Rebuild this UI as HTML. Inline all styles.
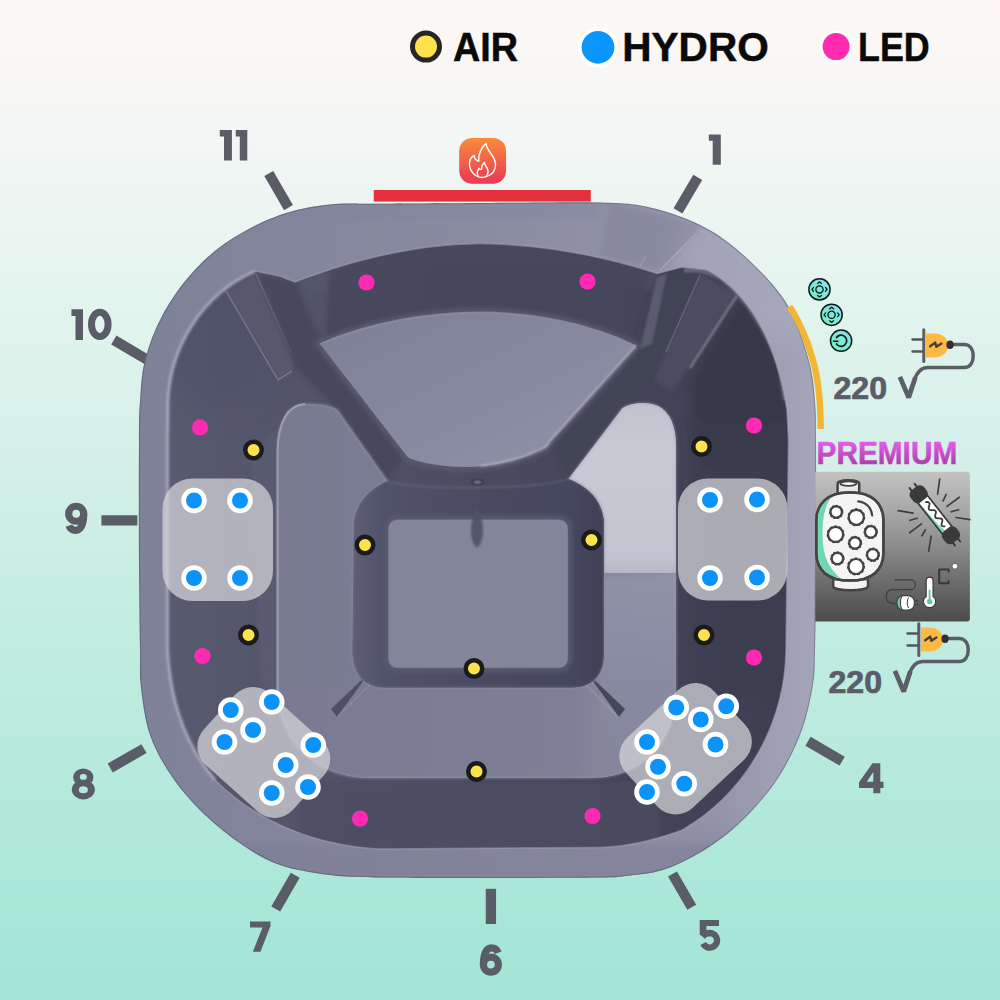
<!DOCTYPE html>
<html>
<head>
<meta charset="utf-8">
<title>Spa layout</title>
<style>
  html, body { margin: 0; padding: 0; }
  body { width: 1000px; height: 1000px; overflow: hidden; background: #c5ede2; font-family: "Liberation Sans", sans-serif; }
  svg { display: block; }
  text { font-family: "Liberation Sans", sans-serif; font-weight: bold; }
</style>
</head>
<body>
<svg width="1000" height="1000" viewBox="0 0 1000 1000">
  <defs>
    <!-- BACKGROUND -->
    <linearGradient id="bg" x1="0" y1="0" x2="0" y2="1">
      <stop offset="0" stop-color="#fdf8f6"/>
      <stop offset="0.08" stop-color="#f8f7f5"/>
      <stop offset="0.15" stop-color="#f1f6f4"/>
      <stop offset="0.30" stop-color="#e3f4ee"/>
      <stop offset="0.45" stop-color="#d5f0e9"/>
      <stop offset="0.60" stop-color="#c5ede2"/>
      <stop offset="0.80" stop-color="#b3e9db"/>
      <stop offset="0.96" stop-color="#a5e6d6"/>
      <stop offset="1" stop-color="#a2e5d4"/>
    </linearGradient>
    <!-- TUB -->
    <linearGradient id="rimG" gradientUnits="userSpaceOnUse" x1="139" y1="0" x2="816" y2="0">
      <stop offset="0" stop-color="#7f8199"/>
      <stop offset="0.5" stop-color="#898ba1"/>
      <stop offset="0.85" stop-color="#9495aa"/>
      <stop offset="1" stop-color="#a4a5b8"/>
    </linearGradient>
    <linearGradient id="wallG" gradientUnits="userSpaceOnUse" x1="167" y1="0" x2="789" y2="0">
      <stop offset="0" stop-color="#585a70"/>
      <stop offset="0.5" stop-color="#4a4b60"/>
      <stop offset="1" stop-color="#3d3e50"/>
    </linearGradient>
    <linearGradient id="benchG" gradientUnits="userSpaceOnUse" x1="277" y1="0" x2="676" y2="0">
      <stop offset="0" stop-color="#787a90"/>
      <stop offset="0.45" stop-color="#7c7e95"/>
      <stop offset="0.80" stop-color="#83849b"/>
      <stop offset="1" stop-color="#8e90a6"/>
    </linearGradient>
    <linearGradient id="rseatUpG" gradientUnits="userSpaceOnUse" x1="0" y1="404" x2="0" y2="574">
      <stop offset="0" stop-color="#c2c2cf"/>
      <stop offset="0.3" stop-color="#c9c9d5"/>
      <stop offset="0.9" stop-color="#c4c4d1"/>
      <stop offset="1" stop-color="#b6b7c6"/>
    </linearGradient>
    <linearGradient id="fanG" x1="0" y1="0" x2="1" y2="1">
      <stop offset="0" stop-color="#7d7f97"/>
      <stop offset="1" stop-color="#9092a8"/>
    </linearGradient>
    

    <linearGradient id="flameG" x1="0" y1="0" x2="0" y2="1">
      <stop offset="0" stop-color="#f88d3a"/>
      <stop offset="1" stop-color="#e93854"/>
    </linearGradient>
    <linearGradient id="ctrlG" x1="0" y1="1" x2="1" y2="0">
      <stop offset="0" stop-color="#6df2bd"/>
      <stop offset="1" stop-color="#92dcf2"/>
    </linearGradient>
    <linearGradient id="premG" x1="0" y1="0" x2="0" y2="1">
      <stop offset="0.2" stop-color="#e35ae8"/>
      <stop offset="0.95" stop-color="#a33a9e"/>
    </linearGradient>
    <linearGradient id="boxG" x1="0" y1="0" x2="0" y2="1">
      <stop offset="0" stop-color="#c3c3c3"/>
      <stop offset="0.35" stop-color="#9e9e9e"/>
      <stop offset="0.7" stop-color="#717171"/>
      <stop offset="1" stop-color="#4b4b4b"/>
    </linearGradient>
    <filter id="b05"><feGaussianBlur stdDeviation="0.6"/></filter>
    <filter id="b12" x="-50%" y="-50%" width="200%" height="200%"><feGaussianBlur stdDeviation="14"/></filter>
    <clipPath id="basinClip"><path d="M167.5 440 L168 400 C170 350 200 295 255 271 L280 276 L295 282 L305 278 C360 258 420 244 480 243.5 C540 244 600 255 657.5 273.5 L682 267 L707 270 C745 290 775 335 787 410 L788.5 440 L786 650 C785 720 750 790 682.5 830 C650 842 620 847 600 847.5 L380 849 C320 846 260 825 215 780 C185 745 170 700 167.5 650 Z"/></clipPath>
    <clipPath id="benchClip"><path d="M277.5 470 L277.5 450 C278 422 288 404.5 305 404 C319 403.6 331 405 337.5 410 L387.5 481 C372 488 358 500 354 520 L352.5 650 C352.5 675 365 687.5 385 687.5 L572 687.5 C592 687.5 603.75 675 603.75 655 L603.75 520 C601 500 590 488 568.5 479 L622.5 408 C632 402 648 401.5 658 406 C670 412 676 426 676 446 L676 690 C676 745 640 778 590 778 L370 778 C315 778 277.5 740 277.5 690 Z" clip-rule="evenodd"/></clipPath>
    <linearGradient id="rseatG" x1="0" y1="0" x2="0" y2="1">
      <stop offset="0" stop-color="#9092a8" stop-opacity="0"/>
      <stop offset="0.04" stop-color="#9092a8" stop-opacity="0.9"/>
      <stop offset="0.5" stop-color="#888aa1" stop-opacity="0.95"/>
      <stop offset="1" stop-color="#82849c" stop-opacity="0.95"/>
    </linearGradient>
    <linearGradient id="bbenchG" gradientUnits="userSpaceOnUse" x1="277" y1="0" x2="676" y2="0">
      <stop offset="0" stop-color="#7a7b92" stop-opacity="0.9"/>
      <stop offset="0.74" stop-color="#7e7f96" stop-opacity="0.9"/>
      <stop offset="0.88" stop-color="#8a8b9e" stop-opacity="0"/>
    </linearGradient>
    <linearGradient id="fwG" gradientUnits="userSpaceOnUse" x1="352" y1="0" x2="604" y2="0">
      <stop offset="0" stop-color="#5d5e76"/>
      <stop offset="0.13" stop-color="#50516a"/>
      <stop offset="0.5" stop-color="#4a4b61"/>
      <stop offset="0.87" stop-color="#454660"/>
      <stop offset="1" stop-color="#3f4055"/>
    </linearGradient>
    <filter id="b1"><feGaussianBlur stdDeviation="1"/></filter>
    <filter id="b2"><feGaussianBlur stdDeviation="2"/></filter>
    <filter id="b4"><feGaussianBlur stdDeviation="4"/></filter>
    <clipPath id="tubClip"><path d="M139 440 C138.8 466.3 138.8 525.0 139 560 C139.2 595.0 139.7 628.8 140 650 C140.3 671.2 139.3 673.3 141 687.5 C142.7 701.7 144.8 720.0 150 735 C155.2 750.0 163.3 764.2 172.5 777.5 C181.7 790.8 193.3 803.8 205 815 C216.7 826.2 230.0 836.7 242.5 845 C255.0 853.3 265.4 860.0 280 865 C294.6 870.0 313.3 872.9 330 875 C346.7 877.1 353.3 877.0 380 877.5 C406.7 878.0 453.3 878.0 490 878 C526.7 878.0 577.5 877.8 600 877.5 C622.5 877.2 614.6 877.2 625 876 C635.4 874.8 650.0 873.9 662.5 870 C675.0 866.1 687.5 860.0 700 852.5 C712.5 845.0 725.0 836.7 737.5 825 C750.0 813.3 764.6 797.5 775 782.5 C785.4 767.5 793.8 750.8 800 735 C806.2 719.2 810.0 701.7 812.5 687.5 C815.0 673.3 814.4 671.2 815 650 C815.6 628.8 815.8 595.0 816 560 C816.2 525.0 816.2 466.3 816 440 C815.8 413.7 816.0 414.5 815 402 C814.0 389.5 813.3 378.7 810 365 C806.7 351.3 800.8 332.9 795 320 C789.2 307.1 784.6 299.2 775 287.5 C765.4 275.8 750.0 260.4 737.5 250 C725.0 239.6 714.6 232.1 700 225 C685.4 217.9 666.7 211.2 650 207.5 C633.3 203.8 626.7 203.2 600 202.5 C573.3 201.8 526.7 202.8 490 203 C453.3 203.2 406.7 203.5 380 203.75 C353.3 204.0 346.7 202.6 330 204.5 C313.3 206.4 296.7 209.1 280 215 C263.3 220.9 244.6 230.4 230 240 C215.4 249.6 203.8 260.0 192.5 272.5 C181.2 285.0 170.4 300.4 162.5 315 C154.6 329.6 148.8 345.5 145 360 C141.2 374.5 141.0 388.7 140 402 C139.0 415.3 139.2 413.7 139 440 Z"/></clipPath>
  </defs>

  <rect width="1000" height="1000" fill="url(#bg)"/>

  <!-- TICKS -->
  <g id="ticks" stroke="#5a5c68" stroke-width="10.3" stroke-linecap="butt">
    <line x1="268.75" y1="173.5" x2="288.5" y2="207.6"/>
    <line x1="113.8" y1="340.05" x2="147" y2="359.6"/>
    <line x1="697.75" y1="177.3" x2="678" y2="210.8"/>
    <line x1="101.4" y1="520.4" x2="137.4" y2="520.4"/>
    <line x1="110.2" y1="768.05" x2="144" y2="748.6"/>
    <line x1="295.2" y1="875.3" x2="275.75" y2="909"/>
    <line x1="490.9" y1="888.8" x2="490.9" y2="924"/>
    <line x1="672.5" y1="874" x2="691.75" y2="907.25"/>
    <line x1="808" y1="741.2" x2="842.15" y2="761.15"/>
  </g>

  <!-- TUB START -->
  <g id="tub">
    <path id="outer" d="M139 440 C138.8 466.3 138.8 525.0 139 560 C139.2 595.0 139.7 628.8 140 650 C140.3 671.2 139.3 673.3 141 687.5 C142.7 701.7 144.8 720.0 150 735 C155.2 750.0 163.3 764.2 172.5 777.5 C181.7 790.8 193.3 803.8 205 815 C216.7 826.2 230.0 836.7 242.5 845 C255.0 853.3 265.4 860.0 280 865 C294.6 870.0 313.3 872.9 330 875 C346.7 877.1 353.3 877.0 380 877.5 C406.7 878.0 453.3 878.0 490 878 C526.7 878.0 577.5 877.8 600 877.5 C622.5 877.2 614.6 877.2 625 876 C635.4 874.8 650.0 873.9 662.5 870 C675.0 866.1 687.5 860.0 700 852.5 C712.5 845.0 725.0 836.7 737.5 825 C750.0 813.3 764.6 797.5 775 782.5 C785.4 767.5 793.8 750.8 800 735 C806.2 719.2 810.0 701.7 812.5 687.5 C815.0 673.3 814.4 671.2 815 650 C815.6 628.8 815.8 595.0 816 560 C816.2 525.0 816.2 466.3 816 440 C815.8 413.7 816.0 414.5 815 402 C814.0 389.5 813.3 378.7 810 365 C806.7 351.3 800.8 332.9 795 320 C789.2 307.1 784.6 299.2 775 287.5 C765.4 275.8 750.0 260.4 737.5 250 C725.0 239.6 714.6 232.1 700 225 C685.4 217.9 666.7 211.2 650 207.5 C633.3 203.8 626.7 203.2 600 202.5 C573.3 201.8 526.7 202.8 490 203 C453.3 203.2 406.7 203.5 380 203.75 C353.3 204.0 346.7 202.6 330 204.5 C313.3 206.4 296.7 209.1 280 215 C263.3 220.9 244.6 230.4 230 240 C215.4 249.6 203.8 260.0 192.5 272.5 C181.2 285.0 170.4 300.4 162.5 315 C154.6 329.6 148.8 345.5 145 360 C141.2 374.5 141.0 388.7 140 402 C139.0 415.3 139.2 413.7 139 440 Z" fill="url(#rimG)"/>
    <g clip-path="url(#tubClip)">
      <!-- rim shading: lighter top-right corner, lighter bottom -->
      <ellipse cx="770" cy="262" rx="95" ry="80" fill="#a9aabd" opacity="0.7" filter="url(#b12)"/>
      <path d="M139 845 H816 V884 H139 Z" fill="#7e7f97" opacity="0.6" filter="url(#b4)"/>
      <path d="M139 203 H600 V218 H139 Z" fill="#83859f" opacity="0.4" filter="url(#b4)"/>
      <ellipse cx="690" cy="870" rx="90" ry="40" fill="#83849c" opacity="0.5" filter="url(#b12)"/>
      <!-- dark thin outer edge on left -->
      <path d="M139 440 C138.8 466.3 138.8 525.0 139 560 C139.2 595.0 139.7 628.8 140 650 C140.3 671.2 139.3 673.3 141 687.5 C142.7 701.7 144.8 720.0 150 735 C155.2 750.0 163.3 764.2 172.5 777.5 C181.7 790.8 193.3 803.8 205 815 C216.7 826.2 230.0 836.7 242.5 845 C255.0 853.3 265.4 860.0 280 865 C294.6 870.0 313.3 872.9 330 875 C346.7 877.1 353.3 877.0 380 877.5 C406.7 878.0 453.3 878.0 490 878 C526.7 878.0 577.5 877.8 600 877.5 C622.5 877.2 614.6 877.2 625 876 C635.4 874.8 650.0 873.9 662.5 870 C675.0 866.1 687.5 860.0 700 852.5 C712.5 845.0 725.0 836.7 737.5 825 C750.0 813.3 764.6 797.5 775 782.5 C785.4 767.5 793.8 750.8 800 735 C806.2 719.2 810.0 701.7 812.5 687.5 C815.0 673.3 814.4 671.2 815 650 C815.6 628.8 815.8 595.0 816 560 C816.2 525.0 816.2 466.3 816 440 C815.8 413.7 816.0 414.5 815 402 C814.0 389.5 813.3 378.7 810 365 C806.7 351.3 800.8 332.9 795 320 C789.2 307.1 784.6 299.2 775 287.5 C765.4 275.8 750.0 260.4 737.5 250 C725.0 239.6 714.6 232.1 700 225 C685.4 217.9 666.7 211.2 650 207.5 C633.3 203.8 626.7 203.2 600 202.5 C573.3 201.8 526.7 202.8 490 203 C453.3 203.2 406.7 203.5 380 203.75 C353.3 204.0 346.7 202.6 330 204.5 C313.3 206.4 296.7 209.1 280 215 C263.3 220.9 244.6 230.4 230 240 C215.4 249.6 203.8 260.0 192.5 272.5 C181.2 285.0 170.4 300.4 162.5 315 C154.6 329.6 148.8 345.5 145 360 C141.2 374.5 141.0 388.7 140 402 C139.0 415.3 139.2 413.7 139 440 Z" fill="none" stroke="#3a3b4c" stroke-width="2" opacity="0.35"/>

      <!-- rim crease top-right -->
      <path d="M696 234 L660 270" fill="none" stroke="#b6b7c6" stroke-width="1.6" opacity="0.7" filter="url(#b05)"/>
      <path d="M646 256 L640 266" fill="none" stroke="#b6b7c6" stroke-width="1.4" opacity="0.6" filter="url(#b05)"/>
      <path d="M610 203 L700 225 L696 234 L660 270 L600 256 Z" fill="#7a7b90" opacity="0.35" filter="url(#b2)"/>
      <!-- basin walls -->
      <path d="M167.5 440 L168 400 C170 350 200 295 255 271 L280 276 L295 282 L305 278 C360 258 420 244 480 243.5 C540 244 600 255 657.5 273.5 L682 267 L707 270 C745 290 775 335 787 410 L788.5 440 L786 650 C785 720 750 790 682.5 830 C650 842 620 847 600 847.5 L380 849 C320 846 260 825 215 780 C185 745 170 700 167.5 650 Z" fill="url(#wallG)"/>
      <g clip-path="url(#basinClip)">
        <!-- lounge back: upper step lighter -->
        <path d="M300 282 C360 258 420 244 480 243.5 C540 244 600 255 660 275 L652 292 C600 273 540 262 480 261.5 C420 262 360 276 308 298 Z" fill="#585a70" opacity="0.4" filter="url(#b2)"/>
        <path d="M330 262 C380 248 430 243 480 243 C540 244 600 255 650 270 L630 340 C590 322 535 312 480 312 C430 312 370 322 325 342 Z" fill="#46475c" opacity="0.8" filter="url(#b2)"/>
        <!-- wall lighter towards top-left corner -->
        <ellipse cx="215" cy="330" rx="60" ry="80" fill="#4e5068" opacity="0.5" filter="url(#b12)"/>
        <!-- top-left ridge -->
        <path d="M226 292 L256 274 L296 368 L279 381 Z" fill="#5a5b71" opacity="0.7" filter="url(#b2)"/>
        <path d="M226 291 L278 380 L292 371" fill="none" stroke="#8b8ca1" stroke-width="1.6" opacity="0.55" filter="url(#b05)"/>
        <path d="M256 274 L291 352" fill="none" stroke="#7f8096" stroke-width="1.4" opacity="0.6" filter="url(#b05)"/>
        <!-- lounge left side wall darker -->
        <path d="M258 273 L296 283 L322 345 L404 455 L388 480 L338 410 L296 368 Z" fill="#46475b" opacity="0.85" filter="url(#b2)"/>
        <!-- top-right ridge / side -->
        <path d="M660 275 L700 274 L666 352 L654 380 L622 408 L568 479 L550 443 L636 346 Z" fill="#434457" opacity="0.8" filter="url(#b2)"/>
        <!-- lounge right end wall (lighter) -->
        <path d="M657 277 L667 274 L652 344 L640 349 Z" fill="#5f6075" opacity="0.85" filter="url(#b1)"/>
        <!-- ridge between line A and line B -->
        <path d="M700 274 L738 294 L700 352 L672 392 L654 380 L666 352 Z" fill="#4f5065" opacity="0.8" filter="url(#b2)"/>
        <path d="M700 275 L666 352" fill="none" stroke="#8485a0" stroke-width="1.3" opacity="0.5" filter="url(#b05)"/>
        <path d="M738 294 L708 340 L690 368" fill="none" stroke="#a9aabd" stroke-width="2.4" opacity="0.55" filter="url(#b1)"/>
        <!-- darkest pocket right of ridge -->
        <path d="M742 298 C765 325 780 365 786 410 L786 470 L700 470 L690 380 Z" fill="#353544" opacity="0.7" filter="url(#b4)"/>
        <!-- inner bevel band in the top-right corner -->
        <path d="M684 270 C700 268 712 272 722 278 C745 296 766 328 780 364 L786 400" fill="none" stroke="#6c6d83" stroke-width="6" opacity="0.8" filter="url(#b1)"/>
        <!-- right wall is darkest -->
        <path d="M690 420 H790 V700 H690 Z" fill="#3b3c4f" opacity="0.5" filter="url(#b4)"/>
        <!-- left wall vertical slope before the seat -->
        <path d="M250 455 L277 430 L277 700 L262 700 Z" fill="#5c5d73" opacity="0.8" filter="url(#b2)"/>
        <!-- bottom wall -->
        <path d="M300 782 H660 V850 H300 Z" fill="#4d4e63" opacity="0.7" filter="url(#b2)"/>
      </g>
      <!-- inner rim highlight edge -->
      <path d="M215 780 C185 745 170 700 167.5 650 L167.5 440 L168 400 C170 350 200 295 255 271" fill="none" stroke="#a6a7bb" stroke-width="4" opacity="0.7" filter="url(#b1)"/>
      <path d="M167.5 440 L168 400 C170 350 200 295 255 271 L280 276 L295 282 L305 278 C360 258 420 244 480 243.5 C540 244 600 255 657.5 273.5 L682 267 L707 270 C745 290 775 335 787 410 L788.5 440 L786 650 C785 720 750 790 682.5 830 C650 842 620 847 600 847.5 L380 849 C320 846 260 825 215 780 C185 745 170 700 167.5 650 Z" fill="none" stroke="#a4a5b8" stroke-width="1.6" opacity="0.55" filter="url(#b05)"/>

      <!-- bench -->
      <path d="M277.5 470 L277.5 450 C278 422 288 404.5 305 404 C319 403.6 331 405 337.5 410 L387.5 481 C372 488 358 500 354 520 L352.5 650 C352.5 675 365 687.5 385 687.5 L572 687.5 C592 687.5 603.75 675 603.75 655 L603.75 520 C601 500 590 488 568.5 479 L622.5 408 C632 402 648 401.5 658 406 C670 412 676 426 676 446 L676 690 C676 745 640 778 590 778 L370 778 C315 778 277.5 740 277.5 690 Z" fill="url(#benchG)" fill-rule="evenodd"/>
      <g clip-path="url(#benchClip)">
        <!-- right seat upper lit surface -->
        <path d="M566 476 L622.5 406 C632 400 648 399.5 660 404 C672 410 680 426 680 446 L680 573 L603.75 573 L603.75 520 C601 500 590 488 566 478 Z" fill="url(#rseatUpG)"/>
        <!-- right seat vertical shading -->
        <rect x="600" y="572" width="90" height="220" fill="url(#rseatG)"/>
        <!-- bottom bench tone -->
        <rect x="270" y="688" width="420" height="95" fill="url(#bbenchG)"/>
        <!-- bottom creases -->
        <path d="M369 673 L331 709 L337 717 Z" fill="#4c4d63" opacity="0.95" filter="url(#b05)"/>
        <path d="M376 679 L337 717" stroke="#9394a8" stroke-width="1.5" opacity="0.5" filter="url(#b05)"/>
        <path d="M587 673 L625 709 L619 717 Z" fill="#43445a" opacity="0.95" filter="url(#b05)"/>
        <path d="M580 679 L618 717" stroke="#a3a4b6" stroke-width="1.5" opacity="0.5" filter="url(#b05)"/>
      </g>
      <!-- bench edge chamfer highlight -->
      <path d="M277.5 470 L277.5 450 C278 422 288 404.5 305 404 C319 403.6 331 405 337.5 410 L387.5 481 C372 488 358 500 354 520 L352.5 650 C352.5 675 365 687.5 385 687.5 L572 687.5 C592 687.5 603.75 675 603.75 655 L603.75 520 C601 500 590 488 568.5 479 L622.5 408 C632 402 648 401.5 658 406 C670 412 676 426 676 446 L676 690 C676 745 640 778 590 778 L370 778 C315 778 277.5 740 277.5 690 Z" fill="none" stroke="#9a9bae" stroke-width="1.8" opacity="0.5" filter="url(#b1)"/>

      <path d="M277.5 700 V450 C278 422 288 404.5 305 404" fill="none" stroke="#b6b7ca" stroke-width="2" opacity="0.6" filter="url(#b05)"/>

      <!-- fan lounge -->
      <path d="M320 344 C370 322 430 312.5 480 312.5 C535 312.5 590 324 636 346 L549.5 442 C548 446 545 448 540 450 C500 470 450 471 413 459.5 C409 458.5 406.5 456.5 404.5 453 Z" fill="none" stroke="#5a5b70" stroke-width="9" stroke-linejoin="round" opacity="0.8" filter="url(#b2)"/>
      <path d="M320 344 C370 322 430 312.5 480 312.5 C535 312.5 590 324 636 346 L549.5 442 C548 446 545 448 540 450 C500 470 450 471 413 459.5 C409 458.5 406.5 456.5 404.5 453 Z" fill="url(#fanG)"/>
      <path d="M320 344 C370 322 430 312.5 480 312.5 C535 312.5 590 324 636 346" fill="none" stroke="#9192a6" stroke-width="1.8" opacity="0.7" filter="url(#b05)"/>
      <path d="M636 346 L549.5 442 C548 446 545 448 540 450 C520 459 500 464 480 466" fill="none" stroke="#b4b5c4" stroke-width="2.4" opacity="0.7" filter="url(#b1)"/>

      <!-- footwell -->
      <path d="M387.5 481 C372 488 358 500 354 520 L352.5 650 C352.5 675 365 687.5 385 687.5 L572 687.5 C592 687.5 603.75 675 603.75 655 L603.75 520 C601 500 590 488 568.5 479 C540 489 420 491 387.5 481 Z" fill="url(#fwG)"/>
      <path d="M387.5 481 C372 488 358 500 354 520 L352.5 650 C352.5 675 365 687.5 385 687.5 L572 687.5 C592 687.5 603.75 675 603.75 655 L603.75 520 C601 500 590 488 568.5 479 C540 489 420 491 387.5 481 Z" fill="none" stroke="#7a7b90" stroke-width="1.6" opacity="0.45" filter="url(#b1)"/>
      <path d="M398.75 520 H557.5 Q567.5 520 567.5 530 V657.5 Q567.5 667.5 557.5 667.5 H398.75 Q388.75 667.5 388.75 657.5 V530 Q388.75 520 398.75 520 Z" fill="none" stroke="#5c5d72" stroke-width="10" opacity="0.7" filter="url(#b2)"/>
      <path d="M398.75 520 H557.5 Q567.5 520 567.5 530 V657.5 Q567.5 667.5 557.5 667.5 H398.75 Q388.75 667.5 388.75 657.5 V530 Q388.75 520 398.75 520 Z" fill="#83859b"/>
      <path d="M398.75 520 H557.5 Q567.5 520 567.5 530 V657.5 Q567.5 667.5 557.5 667.5 H398.75 Q388.75 667.5 388.75 657.5 V530 Q388.75 520 398.75 520 Z" fill="none" stroke="#8a8ba0" stroke-width="1.4" opacity="0.5" filter="url(#b05)"/>
      <!-- drain and ridge -->
      <ellipse cx="477.5" cy="482" rx="7" ry="3.6" fill="#3d3e50" opacity="0.8"/>
      <ellipse cx="477.5" cy="482" rx="3.5" ry="1.8" fill="#70718a" opacity="0.8"/>
      <path d="M477 505 C470 520 468 540 477 548 C486 540 484 520 477 505 Z" fill="#505166" opacity="0.9" filter="url(#b1)"/>
      <path d="M477 508 L477 538" stroke="#3c3d4f" stroke-width="3" opacity="0.7" filter="url(#b1)"/>
    </g>
  </g>
  <!-- TUB END -->

  <!-- OVERLAYS -->
  <g id="overlays">

    <!-- HEATER -->
    <g id="heater">
      <rect x="373.75" y="190" width="217" height="11.6" fill="#e5303d"/>
      <rect x="459.2" y="137.9" width="46.9" height="45.9" rx="13" fill="url(#flameG)"/>
      <path d="M485.97 143.53 C486.6 148 489 151 491.5 154.5 C494.3 158.3 495.7 161.5 495.5 165.5 C495.2 170.5 491.8 174.6 487 176.4 C485.3 177.1 483.4 177.5 481.7 177.5 C479.6 177.5 477.4 176.7 475.7 175.5 C472.2 173 469.6 168.8 469.5 164.3 C469.4 160.3 471.3 156.9 474.1 155.4 C474.4 157.8 475.9 160.6 478.6 161.3 C478.2 154.5 481.3 147.4 485.97 143.53 Z" fill="none" stroke="#ffffff" stroke-width="1.4" stroke-linejoin="round"/>
      <path d="M478.4 176.3 C477 174.3 476.8 171.4 478.9 168.3 C479.6 169.3 480.5 169.6 481.5 169.2 C481.5 166.5 482.6 164 484.3 162.3 C484.6 164.6 486.3 166.2 487.3 168.6 C488.4 171.3 488 174.3 486.2 176.4" fill="none" stroke="#ffffff" stroke-width="1.4" stroke-linejoin="round" stroke-linecap="round"/>
    </g>

    <!-- CONTROL PANEL -->
    <g id="controls">
      <path d="M789.5 306.5 C800 322 811 348 816.5 375 C819.5 392 820.7 410 820.7 429" fill="none" stroke="#f2b632" stroke-width="6.4"/>
      <g transform="translate(819.5 289.4)"><circle r="10.6" fill="url(#ctrlG)" stroke="#0e1a1c" stroke-width="1.5"/><circle r="3.6" fill="none" stroke="#0e1a1c" stroke-width="1.3"/><path d="M-1.9 -6 L0 -7.6 L1.9 -6 M-1.9 6 L0 7.6 L1.9 6 M-6 -1.9 L-7.6 0 L-6 1.9 M6 -1.9 L7.6 0 L6 1.9" fill="none" stroke="#0e1a1c" stroke-width="1.3" stroke-linecap="round" stroke-linejoin="round"/></g>
      <g transform="translate(831.6 314.8)"><circle r="10.6" fill="url(#ctrlG)" stroke="#0e1a1c" stroke-width="1.5"/><circle r="3.6" fill="none" stroke="#0e1a1c" stroke-width="1.3"/><path d="M-1.9 -6 L0 -7.6 L1.9 -6 M-1.9 6 L0 7.6 L1.9 6 M-6 -1.9 L-7.6 0 L-6 1.9 M6 -1.9 L7.6 0 L6 1.9" fill="none" stroke="#0e1a1c" stroke-width="1.3" stroke-linecap="round" stroke-linejoin="round"/></g>
      <g transform="translate(841.1 340.7)"><circle r="10.6" fill="url(#ctrlG)" stroke="#0e1a1c" stroke-width="1.5"/><path d="M-4.6 -3.2 A5.6 5.6 0 1 1 -4.6 3.2" fill="none" stroke="#0e1a1c" stroke-width="1.7" stroke-linecap="round"/><path d="M-7.6 0.6 H-3.2" stroke="#0e1a1c" stroke-width="1.5" stroke-linecap="round"/></g>
    </g>

    <!-- POWER 1 -->
    
    <g transform="translate(0 0)">
      <text x="833.5" y="399" font-size="30.5" fill="#5a5c68" stroke="#5a5c68" stroke-width="0.7" textLength="53.5" lengthAdjust="spacingAndGlyphs">220</text>
      <path d="M899.9 376.9 L908.7 397.6 L915.3 377.6" fill="none" stroke="#5b5d69" stroke-width="4.8" stroke-linejoin="miter" stroke-miterlimit="2"/><path d="M914.2 381 C917 371 921.5 367.6 928 367.6 L964 367.6 C970.5 367.6 973.2 362 973.2 356 C973.2 349.5 970 344.6 964 344.6 L951 344.6" fill="none" stroke="#5b5d69" stroke-width="3.5" stroke-linecap="round" stroke-linejoin="round"/>
      <path d="M926 333.6 H934.5 C943 333.6 948.4 339.5 948.4 345.6 C948.4 351.7 943 357.6 934.5 357.6 H926 Z" fill="#fcba45"/>
      <ellipse cx="950" cy="344.8" rx="3.6" ry="4.3" fill="#2f2f33"/>
      <path d="M923.8 329.8 V361.4" stroke="#5b5d69" stroke-width="3" stroke-linecap="round"/>
      <path d="M912.4 339.5 H922.6 M912.4 351.5 H922.6" stroke="#55565f" stroke-width="2.3" stroke-linecap="round"/>
      <path d="M930.2 346.2 L935.2 342.6 L936.4 346.8 L941.4 343.6" fill="none" stroke="#453f36" stroke-width="2.4" stroke-linecap="round" stroke-linejoin="round"/>
    </g>
    <!-- POWER 2 -->
    
    <g transform="translate(-5 294)">
      <text x="833.5" y="399" font-size="30.5" fill="#5a5c68" stroke="#5a5c68" stroke-width="0.7" textLength="53.5" lengthAdjust="spacingAndGlyphs">220</text>
      <path d="M899.9 376.9 L908.7 397.6 L915.3 377.6" fill="none" stroke="#5b5d69" stroke-width="4.8" stroke-linejoin="miter" stroke-miterlimit="2"/><path d="M914.2 381 C917 371 921.5 367.6 928 367.6 L964 367.6 C970.5 367.6 973.2 362 973.2 356 C973.2 349.5 970 344.6 964 344.6 L951 344.6" fill="none" stroke="#5b5d69" stroke-width="3.5" stroke-linecap="round" stroke-linejoin="round"/>
      <path d="M926 333.6 H934.5 C943 333.6 948.4 339.5 948.4 345.6 C948.4 351.7 943 357.6 934.5 357.6 H926 Z" fill="#fcba45"/>
      <ellipse cx="950" cy="344.8" rx="3.6" ry="4.3" fill="#2f2f33"/>
      <path d="M923.8 329.8 V361.4" stroke="#5b5d69" stroke-width="3" stroke-linecap="round"/>
      <path d="M912.4 339.5 H922.6 M912.4 351.5 H922.6" stroke="#55565f" stroke-width="2.3" stroke-linecap="round"/>
      <path d="M930.2 346.2 L935.2 342.6 L936.4 346.8 L941.4 343.6" fill="none" stroke="#453f36" stroke-width="2.4" stroke-linecap="round" stroke-linejoin="round"/>
    </g>

    <!-- PREMIUM -->
    <g id="premium">
      <text x="816.6" y="464" font-size="30.5" fill="url(#premG)" stroke="url(#premG)" stroke-width="0.5" textLength="140.6" lengthAdjust="spacingAndGlyphs">PREMIUM</text>
      <path d="M815.2 471.8 H966.9 Q969.9 471.8 969.9 474.8 V618.5 Q969.9 621.5 966.9 621.5 H815.2 Z" fill="url(#boxG)"/>
      <!-- canister -->
      <g stroke="#444446" stroke-width="2.5" stroke-linejoin="round" stroke-linecap="round">
        <path d="M833.2 580.5 V586 C833.2 591.8 868 591.8 868 586 V580.5" fill="#f2f2f2"/>
        <path d="M837.6 492.5 V483.5 C837.6 479 859.2 479 859.2 483.5 V492.5" fill="#e9e9e9"/>
        <ellipse cx="848.4" cy="483.6" rx="8.2" ry="2.2" fill="#fbfbfb" stroke-width="1.8"/>
        <path d="M848 492.4 C828 492.4 816.4 504 816.4 520 V553 C816.4 570 828 580.6 850 580.6 C872 580.6 883.4 570 883.4 553 V520 C883.4 504 872 492.4 852 492.4 Z" fill="#f4f4f4"/>
        <path d="M833.5 494.8 C824 505 822.2 520 822.6 536 C823 552 826 566 841 578.5 C826 576 817.7 567 817.7 553 V520 C817.7 507 823 498.5 833.5 494.8 Z" fill="#6fd7b3" stroke="none"/>
        <path d="M848 492.4 C828 492.4 816.4 504 816.4 520 V553 C816.4 570 828 580.6 850 580.6 C872 580.6 883.4 570 883.4 553 V520 C883.4 504 872 492.4 852 492.4 Z" fill="none"/>
        <path d="M858.2 501.3 C866 502 871.6 508 872.2 515.4" fill="none" stroke-width="2.2"/>
      </g>
      <circle cx="836.2" cy="512" r="5.70" fill="#ffffff" stroke="#444446" stroke-width="2.2"/><circle cx="836.2" cy="512" r="6.30" fill="none" stroke="#444446" stroke-width="1.8" stroke-linecap="round" stroke-dasharray="1.26 2.34"/>
      <circle cx="856.3" cy="517.3" r="7.50" fill="#ffffff" stroke="#444446" stroke-width="2.2"/><circle cx="856.3" cy="517.3" r="8.10" fill="none" stroke="#444446" stroke-width="1.8" stroke-linecap="round" stroke-dasharray="1.62 3.01"/>
      <circle cx="835.6" cy="534.4" r="7.50" fill="#ffffff" stroke="#444446" stroke-width="2.2"/><circle cx="835.6" cy="534.4" r="8.10" fill="none" stroke="#444446" stroke-width="1.8" stroke-linecap="round" stroke-dasharray="1.62 3.01"/>
      <circle cx="870.7" cy="531.9" r="5.70" fill="#ffffff" stroke="#444446" stroke-width="2.2"/><circle cx="870.7" cy="531.9" r="6.30" fill="none" stroke="#444446" stroke-width="1.8" stroke-linecap="round" stroke-dasharray="1.26 2.34"/>
      <circle cx="855" cy="543" r="5.70" fill="#ffffff" stroke="#444446" stroke-width="2.2"/><circle cx="855" cy="543" r="6.30" fill="none" stroke="#444446" stroke-width="1.8" stroke-linecap="round" stroke-dasharray="1.26 2.34"/>
      <circle cx="837.4" cy="558.5" r="5.70" fill="#ffffff" stroke="#444446" stroke-width="2.2"/><circle cx="837.4" cy="558.5" r="6.30" fill="none" stroke="#444446" stroke-width="1.8" stroke-linecap="round" stroke-dasharray="1.26 2.34"/>
      <circle cx="872.8" cy="554.8" r="5.70" fill="#ffffff" stroke="#444446" stroke-width="2.2"/><circle cx="872.8" cy="554.8" r="6.30" fill="none" stroke="#444446" stroke-width="1.8" stroke-linecap="round" stroke-dasharray="1.26 2.34"/>
      <circle cx="856" cy="566.5" r="7.50" fill="#ffffff" stroke="#444446" stroke-width="2.2"/><circle cx="856" cy="566.5" r="8.10" fill="none" stroke="#444446" stroke-width="1.8" stroke-linecap="round" stroke-dasharray="1.62 3.01"/>
      <!-- UV lamp -->
      <path d="M939.7 479.2 L937.6 494.1 M946.1 494.5 L943.1 500.9 M959.3 497.3 L947 506.4 M958.5 509.8 L951.2 511.8 M969.9 519.6 L955.9 517.5 M898.1 510.7 L913 513.2 M910 520.3 L917.2 518.3 M909.6 532.8 L921.5 523.9 M921.9 535.8 L925.3 529.8 M928.7 551.1 L931.2 536.2" stroke="#3e3e40" stroke-width="1.7" stroke-linecap="round" fill="none"/>
      <g transform="translate(934.85 514.7) rotate(51.7)">
        <path d="M-36.6 -3.3 H-32 M-36.6 3.3 H-32 M32 -3.3 H36.6 M32 3.3 H36.6" stroke="#3a3a3c" stroke-width="2" stroke-linecap="round"/>
        <rect x="-20" y="-6.1" width="40" height="12.2" fill="#ffffff"/>
        <path d="M-20 6.1 H20 V1.4 C12 3.8 0 4.4 -20 4.7 Z" fill="#6fd7b3"/>
        <rect x="-20" y="-6.1" width="40" height="12.2" fill="none" stroke="#3a3a3c" stroke-width="1.7"/>
        <path d="M-15.5 -0.8 q2.6 -4.2 5.2 0 t5.2 0 t5.2 0 t5.2 0 t5.2 0 t4.6 0.4" fill="none" stroke="#3a3a3c" stroke-width="1.8" stroke-linecap="round"/>
        <rect x="-33.6" y="-8.6" width="15" height="17.2" rx="5.5" fill="#3a3a3c"/>
        <rect x="18.6" y="-8.6" width="15" height="17.2" rx="5.5" fill="#3a3a3c"/>
      </g>
      <!-- small plug + cable -->
      <path d="M894.9 579.8 H911 C916.8 579.8 916.8 589.7 911 589.7 H892.5 C885.5 589.7 885 598 888 601.5 C890 603.6 893.5 603.6 896.6 603.6" fill="none" stroke="#3e3e40" stroke-width="1.2" stroke-linecap="round"/>
      <path d="M914.2 600.9 H917.8 M914.2 604.5 H917.8" stroke="#3e3e40" stroke-width="1.1" stroke-linecap="round"/>
      <ellipse cx="902.6" cy="602.8" rx="5.8" ry="7.2" fill="#66cfab" stroke="#3e3e40" stroke-width="1.1"/>
      <path d="M902.8 595.6 C899.6 598 899.6 607.6 902.8 610 H907.6 C913.2 610 914.4 606 914.4 602.8 C914.4 599.6 913.2 595.6 907.6 595.6 Z" fill="#ffffff" stroke="#3e3e40" stroke-width="1.1"/>
      <path d="M908.6 597.6 C906.8 600 906.8 605.6 908.6 608" fill="none" stroke="#3e3e40" stroke-width="1.0"/>
      <!-- thermometer -->
      <path d="M926.2 580.6 C926.2 576 933 576 933 580.6 V596.6 C937.6 599.6 936 607.6 929.6 607.6 C923.2 607.6 921.6 599.6 926.2 596.6 Z" fill="#ffffff" stroke="#3a3a3c" stroke-width="1.1"/>
      <circle cx="929.6" cy="601.6" r="2.7" fill="#5ec6a4"/>
      <path d="M929.6 601 V590.4" stroke="#5ec6a4" stroke-width="1.9" stroke-linecap="round"/>
      <path d="M948.6 571.4 V569.4 H939.2 V583.2 H948.6 V581.2" fill="none" stroke="#38383a" stroke-width="2" stroke-linecap="round" stroke-linejoin="round"/>
      <circle cx="954.9" cy="566.25" r="2.9" fill="#ffffff" stroke="#4a4a4c" stroke-width="0.8"/>
    </g>

    <!-- LEGEND -->
    <g id="legend">
      <circle cx="426" cy="46.6" r="13.5" fill="#fde24b" stroke="#262626" stroke-width="5"/>
      <text x="453" y="61.3" font-size="40.3" fill="#0a0a0a" stroke="#0a0a0a" stroke-width="0.5" textLength="65" lengthAdjust="spacingAndGlyphs">AIR</text>
      <circle cx="598" cy="47.3" r="20" fill="#ffffff"/>
      <circle cx="598" cy="47.3" r="16.35" fill="#0a95ff"/>
      <text x="622.3" y="61.3" font-size="40.3" fill="#0a0a0a" stroke="#0a0a0a" stroke-width="0.5" textLength="146.4" lengthAdjust="spacingAndGlyphs">HYDRO</text>
      <circle cx="836.1" cy="46.6" r="16" fill="#ffffff"/>
      <circle cx="836.1" cy="46.6" r="13.5" fill="#ff2ab0"/>
      <text x="858" y="61.3" font-size="40.3" fill="#0a0a0a" stroke="#0a0a0a" stroke-width="0.5" textLength="71.7" lengthAdjust="spacingAndGlyphs">LED</text>
    </g>
    <!-- NUMBERS -->
    <g id="nums" fill="#5a5c68">
      <path d="M219.8 130 H231.9 V160.4 H224 V136.4 H219.8 Z"/>
      <path d="M235.75 130 H247.3 V160.4 H239.8 V136.4 H235.75 Z"/>
      <path d="M71.45 309.25 H83 V340.05 H75.5 V316.1 H71.45 Z"/>
      <ellipse cx="99.8" cy="324.4" rx="8.3" ry="12.1" fill="none" stroke="#5a5c68" stroke-width="7.0"/>
      <path d="M708.8 134.5 H720.8 V164.8 H712.7 V140.8 H708.8 Z"/>
      <g transform="translate(65.1 502.7)" fill="none" stroke="#5a5c68" stroke-width="7.2"><circle cx="11.1" cy="11.05" r="7.5"/><path d="M18.6 11 C18.6 21.5 15.6 27.7 10.6 27.7 C7.4 27.7 5.0 26 3.9 22.9"/></g>
      <path fill-rule="nonzero" d="M73.15 777.3 A10.15 8.9 0 1 1 93.45 777.3 A10.15 8.9 0 1 1 73.15 777.3 Z M71.80 789.6 A11.55 9.8 0 1 1 94.90 789.6 A11.55 9.8 0 1 1 71.80 789.6 Z M79.75 777.1 A3.55 3.0 0 1 0 86.85 777.1 A3.55 3.0 0 1 0 79.75 777.1 Z M78.80 789.8 A4.55 3.55 0 1 0 87.90 789.8 A4.55 3.55 0 1 0 78.80 789.8 Z"/>
      <path d="M250 921.5 H270.5 V926 L260.5 951.8 H252.8 L262.5 927.5 H250 Z"/>
      <g transform="translate(479.8 944.3) rotate(180 11.1 15.65)" fill="none" stroke="#5a5c68" stroke-width="7.2"><circle cx="11.1" cy="11.05" r="7.5"/><path d="M18.6 11 C18.6 21.5 15.6 27.7 10.6 27.7 C7.4 27.7 5.0 26 3.9 22.9"/></g>
      <path d="M699.7 920 H719 V926.1 H706.4 V935 H699.7 Z"/>
      <path d="M702.4 936.6 C704.6 934 707.4 933 710 933 A7.3 7.3 0 1 1 703.2 943.5" fill="none" stroke="#5a5c68" stroke-width="6.4"/>
      <path fill-rule="evenodd" d="M872.5 763.2 H880.3 V781.8 H883.5 V788 H880.3 V793.3 H873.3 V788 H859 V782.3 Z M866.8 781.8 L873.3 772 V781.8 Z"/>
    </g>
    <!-- PADS -->
    <g id="pads" fill="#d4d4da" fill-opacity="0.73">
      <rect x="162.5" y="478.5" width="110.5" height="122.5" rx="30"/>
      <rect x="678" y="478.5" width="109.5" height="122" rx="30"/>
      <rect x="-60" y="-48" width="120" height="96" rx="25" transform="translate(263.75 752.5) rotate(42)"/>
      <rect x="-60" y="-48" width="120" height="96" rx="25" transform="translate(685.6 748.75) rotate(-43)"/>
    </g>
    <!-- JETS -->
    <g id="jets" fill="#0b92fb" stroke="#ffffff" stroke-width="4.8">
      <circle cx="194" cy="500.5" r="10.4"/>
      <circle cx="240" cy="500.5" r="10.4"/>
      <circle cx="194" cy="578" r="10.4"/>
      <circle cx="240" cy="578" r="10.4"/>
      <circle cx="710" cy="500" r="10.4"/>
      <circle cx="757" cy="499.5" r="10.4"/>
      <circle cx="710" cy="578" r="10.4"/>
      <circle cx="757" cy="577.5" r="10.4"/>
      <circle cx="230.75" cy="710" r="10.4"/>
      <circle cx="271.75" cy="702" r="10.4"/>
      <circle cx="253" cy="730" r="10.4"/>
      <circle cx="224.5" cy="742" r="10.4"/>
      <circle cx="313.25" cy="745" r="10.4"/>
      <circle cx="285.75" cy="765" r="10.4"/>
      <circle cx="308" cy="787" r="10.4"/>
      <circle cx="271.75" cy="793" r="10.4"/>
      <circle cx="676.25" cy="707.5" r="10.4"/>
      <circle cx="726.25" cy="706.25" r="10.4"/>
      <circle cx="700.75" cy="719.5" r="10.4"/>
      <circle cx="647" cy="742" r="10.4"/>
      <circle cx="715.5" cy="744.5" r="10.4"/>
      <circle cx="658" cy="766.75" r="10.4"/>
      <circle cx="684.25" cy="783.75" r="10.4"/>
      <circle cx="647" cy="792" r="10.4"/>
    </g>
    <!-- LEDS -->
    <g id="leds" fill="#ff2ab4">
      <circle cx="366.5" cy="282.5" r="8.1"/>
      <circle cx="587.5" cy="281.5" r="8.1"/>
      <circle cx="200" cy="427.5" r="8.1"/>
      <circle cx="754" cy="425.5" r="8.1"/>
      <circle cx="202.5" cy="656" r="8.1"/>
      <circle cx="754" cy="657.5" r="8.1"/>
      <circle cx="360" cy="818.5" r="8.1"/>
      <circle cx="592.5" cy="816" r="8.1"/>
    </g>
    <!-- AIR -->
    <g id="airs" fill="#fde24b" stroke="#1b1b1b" stroke-width="4.5">
      <circle cx="253.5" cy="450" r="8.25"/>
      <circle cx="701.5" cy="446.5" r="8.25"/>
      <circle cx="365" cy="545" r="8.25"/>
      <circle cx="591.5" cy="540" r="8.25"/>
      <circle cx="248.5" cy="635" r="8.25"/>
      <circle cx="704" cy="635" r="8.25"/>
      <circle cx="474" cy="668.5" r="8.25"/>
      <circle cx="476.5" cy="771.5" r="8.25"/>
    </g>
  </g>
</svg>
</body>
</html>
